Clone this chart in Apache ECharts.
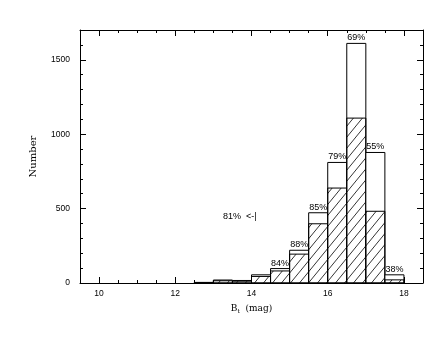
<!DOCTYPE html>
<html>
<head>
<meta charset="utf-8">
<script src="https://cdn.jsdelivr.net/npm/echarts@6/dist/echarts.min.js"></script>
<style>
  html, body { margin: 0; padding: 0; background: #fff; }
  #bt-hist { width: 437px; height: 338px; }
</style>
</head>
<body>
<div id="bt-hist"></div>
<script>
// histogram bins (lower edge, mag) and counts
const binLo = [12.5, 13, 13.5, 14, 14.5, 15, 15.5, 16, 16.5, 17, 17.5];
const totalCounts = [4, 20, 17, 55, 97, 220, 472, 810, 1610, 877, 55];
const hatchedCounts = [2, 15, 12, 44, 81, 194, 398, 638, 1108, 482, 21];
const pctLabels = ['', '', '', '', '84%', '88%', '85%', '79%', '69%', '55%', '38%'];
const binWidth = 0.5;
const xMajor = [10, 12, 14, 16, 18];
const yMajor = [0, 500, 1000, 1500];
const note = { x: 13.69, y: 444, text: '81%  <-|' };

const chart = echarts.init(document.getElementById('bt-hist'));

// diagonal hatch tile
function hatchTile() {
  const w = 9, h = 11;
  const c = document.createElement('canvas');
  c.width = w; c.height = h;
  const ctx = c.getContext('2d');
  ctx.strokeStyle = '#000';
  ctx.lineWidth = 0.8;
  [-w, 0, w].forEach((dx) => {
    ctx.beginPath();
    ctx.moveTo(dx - 1, h + h / w);
    ctx.lineTo(dx + w + 1, -h / w);
    ctx.stroke();
  });
  return c;
}
const hatch = { image: hatchTile(), repeat: 'repeat' };

const lineStyle = { color: '#000', width: 1 };
const tickFont = { color: '#000', fontSize: 8.5, fontFamily: 'Liberation Sans', formatter: (v) => String(v) };

function xAx(pos, major) {
  return {
    type: 'value', position: pos, min: 9.5, max: 18.5,
    interval: major ? undefined : 0.5,
    axisLine: { show: major, onZero: false, lineStyle },
    axisTick: major
      ? { inside: true, length: 6, lineStyle, customValues: xMajor }
      : { inside: true, length: 3, lineStyle },
    axisLabel: major && pos === 'bottom'
      ? { ...tickFont, margin: 6, customValues: xMajor }
      : { show: false },
    splitLine: { show: false },
  };
}
function yAx(pos, major) {
  return {
    type: 'value', position: pos, min: 0, max: 1700,
    interval: major ? undefined : 100,
    axisLine: { show: major, onZero: false, lineStyle },
    axisTick: major
      ? { inside: true, length: 6, lineStyle, customValues: yMajor }
      : { inside: true, length: 3, lineStyle },
    axisLabel: major && pos === 'left'
      ? { ...tickFont, margin: 10, customValues: yMajor }
      : { show: false },
    splitLine: { show: false },
  };
}

const xAxes = [xAx('bottom', true), xAx('bottom', false), xAx('top', true), xAx('top', false)];
xAxes[0].name = '{n|B}{s|t}{n|  (mag)}';
xAxes[0].nameLocation = 'middle';
xAxes[0].nameGap = 20;
xAxes[0].nameTextStyle = {
  rich: {
    n: { fontFamily: 'DejaVu Serif', fontSize: 9, color: '#000' },
    s: { fontFamily: 'DejaVu Serif', fontSize: 6, color: '#000', padding: [5, 0, 0, 0] },
  },
};
const yAxes = [yAx('left', true), yAx('left', false), yAx('right', true), yAx('right', false)];
yAxes[0].name = 'Number';
yAxes[0].nameLocation = 'middle';
yAxes[0].nameGap = 42;
yAxes[0].nameTextStyle = { fontFamily: 'DejaVu Serif', fontSize: 10, color: '#000' };

const option = {
  animation: false,
  backgroundColor: '#fff',
  grid: { left: 80, right: 14, top: 30, bottom: 55, containLabel: false },
  xAxis: xAxes,
  yAxis: yAxes,
  series: [
    {
      type: 'custom',
      xAxisIndex: 0,
      yAxisIndex: 0,
      data: binLo.map((lo, i) => [lo, totalCounts[i], hatchedCounts[i]]),
      renderItem(params, api) {
        const lo = api.value(0);
        const p0 = api.coord([lo, 0]);
        const pT = api.coord([lo + binWidth, api.value(1)]);
        const pH = api.coord([lo + binWidth, api.value(2)]);
        return {
          type: 'group',
          children: [
            {
              type: 'rect',
              shape: { x: p0[0], y: pT[1], width: pT[0] - p0[0], height: p0[1] - pT[1] },
              style: { fill: '#fff', stroke: '#000', lineWidth: 1 },
            },
            {
              type: 'rect',
              shape: { x: p0[0], y: pH[1], width: pH[0] - p0[0], height: p0[1] - pH[1] },
              style: { fill: hatch, stroke: '#000', lineWidth: 1 },
            },
            {
              type: 'text',
              style: {
                text: pctLabels[params.dataIndex],
                x: (p0[0] + pT[0]) / 2,
                y: pT[1] - 1,
                align: 'center',
                verticalAlign: 'bottom',
                fontSize: 9,
                fontFamily: 'Liberation Sans',
                fill: '#000',
              },
            },
          ],
        };
      },
    },
    {
      // side note: share of the brighter bins
      type: 'custom',
      xAxisIndex: 0,
      yAxisIndex: 0,
      data: [[note.x, note.y]],
      renderItem(params, api) {
        const p = api.coord([api.value(0), api.value(1)]);
        return {
          type: 'text',
          style: {
            text: note.text, x: p[0], y: p[1], align: 'center', verticalAlign: 'middle',
            fontSize: 9, fontFamily: 'Liberation Sans', fill: '#000',
          },
        };
      },
    },
  ],
};

chart.setOption(option);
</script>
</body>
</html>
